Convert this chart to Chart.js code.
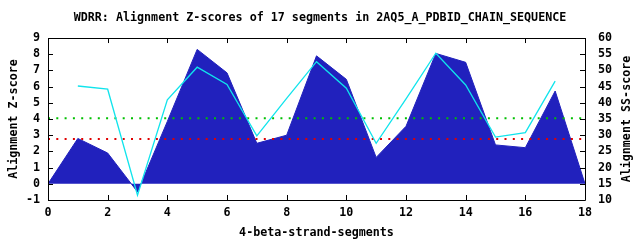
<!DOCTYPE html>
<html>
<head>
<meta charset="utf-8">
<script src="https://cdn.jsdelivr.net/npm/chart.js@4/dist/chart.umd.min.js"></script>
<style>
  body { margin: 0; background: #fff; }
</style>
</head>
<body>
<canvas id="zchart" width="640" height="240"></canvas>
<script>
// segment index on the x axis
var segments = [0,1,2,3,4,5,6,7,8,9,10,11,12,13,14,15,16,17,18];
// alignment Z-score (left axis, filled)
var zScores = [0, 2.8, 1.9, -0.5, 3.85, 8.3, 6.85, 2.5, 3.0, 7.9, 6.45, 1.63, 3.55, 8.05, 7.5, 2.4, 2.23, 5.73, 0];
// alignment SS-score (right axis), segments 1..17
var ssSegments = [1,2,3,4,5,6,7,8,9,10,11,12,13,14,15,16,17];
var ssScores = [45.2, 44.2, 11.5, 40.9, 51.0, 45.7, 29.8, 41.4, 52.7, 44.5, 27.5, 41.2, 55.3, 45.5, 29.4, 30.8, 46.7];
// dotted threshold lines (Z-score)
var greenLevel = 4.05;
var redLevel = 2.77;

var y2Title = 'Alignment SS-score';
var monoFont = 'DejaVu Sans Mono';
var fontSize = 11.7;

function pts(xs, ys) {
    var out = [];
    for (var i = 0; i < xs.length; i++) {
        out.push({x: xs[i], y: ys[i]});
    }
    return out;
};

function levelLine(v) {
    return [{x: segments[0], y: v}, {x: segments[segments.length - 1], y: v}];
};

function axisFont() {
    return { family: monoFont, size: fontSize, weight: 'bold', lineHeight: 1.2 };
};

// gnuplot style frame with inward ticks, plus the right title read bottom-up
var framePlugin = {
    id: 'frame',
    afterDraw: function(chart) {
        var ctx = chart.ctx;
        var a = chart.chartArea;
        var s = chart.scales;
        var len = 5;
        ctx.save();
        ctx.strokeStyle = '#000';
        ctx.lineWidth = 1;
        ctx.beginPath();
        ctx.rect(Math.round(a.left) + 0.5, Math.round(a.top) + 0.5,
                 Math.round(a.right - a.left), Math.round(a.bottom - a.top));
        s.x.ticks.forEach(function(t) {
            var px = Math.round(s.x.getPixelForValue(t.value)) + 0.5;
            ctx.moveTo(px, a.bottom);
            ctx.lineTo(px, a.bottom - len);
            ctx.moveTo(px, a.top);
            ctx.lineTo(px, a.top + len);
        });
        s.y.ticks.forEach(function(t) {
            var py = Math.round(s.y.getPixelForValue(t.value)) + 0.5;
            ctx.moveTo(a.left, py);
            ctx.lineTo(a.left + len, py);
        });
        s.y2.ticks.forEach(function(t) {
            var py = Math.round(s.y2.getPixelForValue(t.value)) + 0.5;
            ctx.moveTo(a.right, py);
            ctx.lineTo(a.right - len, py);
        });
        ctx.stroke();

        // right axis title
        ctx.translate(s.y2.right - 13, (a.top + a.bottom) / 2);
        ctx.rotate(-Math.PI / 2);
        ctx.fillStyle = '#000';
        ctx.font = 'bold ' + fontSize + 'px "' + monoFont + '"';
        ctx.textAlign = 'center';
        ctx.textBaseline = 'middle';
        ctx.fillText(y2Title, 0, 0);
        ctx.restore();
    }
};

var ctx = document.getElementById('zchart').getContext('2d');
var chart = new Chart(ctx, {
    type: 'line',
    data: {
        datasets: [
            {
                label: 'SS-score',
                data: pts(ssSegments, ssScores),
                yAxisID: 'y2',
                borderColor: '#10e4ec',
                borderWidth: 1.3,
                pointRadius: 0,
                fill: false,
                tension: 0
            },
            {
                label: 'green level',
                data: levelLine(greenLevel),
                yAxisID: 'y',
                borderColor: '#00c000',
                borderWidth: 2,
                borderDash: [2, 6.3],
                pointRadius: 0,
                fill: false
            },
            {
                label: 'red level',
                data: levelLine(redLevel),
                yAxisID: 'y',
                borderColor: '#e00000',
                borderWidth: 2,
                borderDash: [2, 6.3],
                pointRadius: 0,
                fill: false
            },
            {
                label: 'Z-score',
                data: pts(segments, zScores),
                yAxisID: 'y',
                borderColor: '#2121bd',
                backgroundColor: '#2121bd',
                borderWidth: 1,
                pointRadius: 0,
                fill: 'origin',
                tension: 0
            }
        ]
    },
    options: {
        responsive: false,
        animation: false,
        devicePixelRatio: 1,
        layout: { padding: 0 },
        plugins: {
            legend: { display: false },
            tooltip: { enabled: false },
            title: {
                display: true,
                text: 'WDRR: Alignment Z-scores of 17 segments in 2AQ5_A_PDBID_CHAIN_SEQUENCE',
                color: '#000',
                font: axisFont(),
                padding: { top: 11, bottom: 13 }
            }
        },
        scales: {
            x: {
                type: 'linear',
                position: 'bottom',
                min: 0,
                max: 18,
                afterFit: function(scale) { scale.height = 40; },
                grid: { display: false, drawTicks: false },
                border: { display: false },
                ticks: { stepSize: 2, autoSkip: false, maxRotation: 0, padding: 6,
                         color: '#000', font: axisFont() },
                title: { display: true, text: '4-beta-strand-segments', color: '#000',
                         font: axisFont(), padding: { top: 0, bottom: 0.5 } }
            },
            y: {
                type: 'linear',
                position: 'left',
                min: -1,
                max: 9,
                afterFit: function(scale) { scale.width = 48; },
                grid: { display: false, drawTicks: false },
                border: { display: false },
                ticks: { stepSize: 1, autoSkip: false, padding: 8, color: '#000', font: axisFont() },
                title: { display: true, text: 'Alignment Z-score', color: '#000',
                         font: axisFont(), padding: { top: 6.8, bottom: 0 } }
            },
            y2: {
                type: 'linear',
                position: 'right',
                min: 10,
                max: 60,
                afterFit: function(scale) { scale.width = 55; },
                grid: { display: false, drawTicks: false },
                border: { display: false },
                ticks: { stepSize: 5, autoSkip: false, padding: 13, color: '#000', font: axisFont() },
                title: { display: false }
            }
        }
    },
    plugins: [framePlugin]
});
</script>
</body>
</html>
